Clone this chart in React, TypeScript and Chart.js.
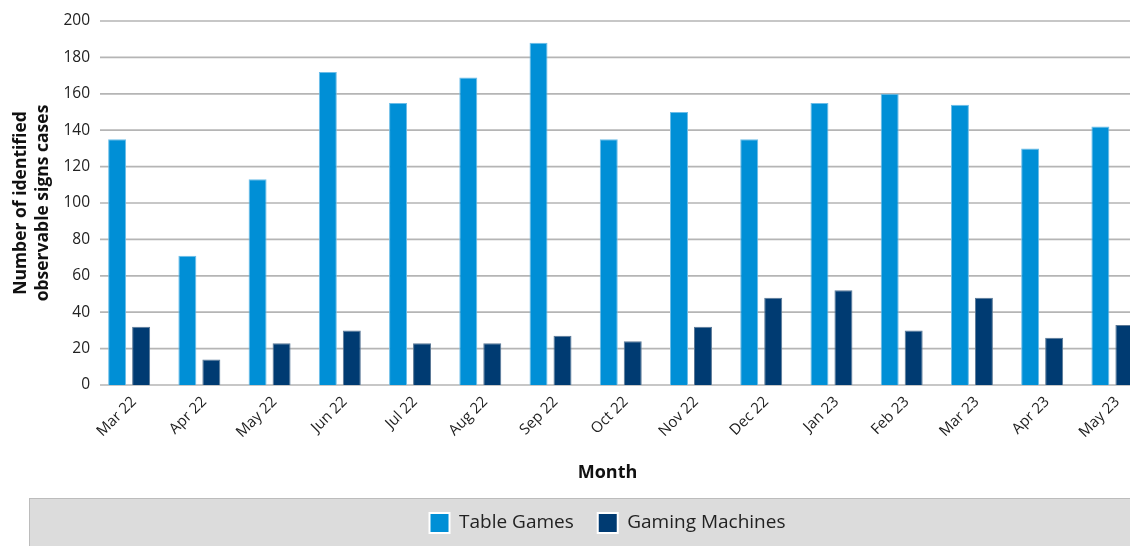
import React, { useEffect, useRef } from "react";
import { Chart, registerables } from "chart.js";

Chart.register(...registerables);

const categories = [
  "Mar 22", "Apr 22", "May 22", "Jun 22", "Jul 22", "Aug 22", "Sep 22", "Oct 22",
  "Nov 22", "Dec 22", "Jan 23", "Feb 23", "Mar 23", "Apr 23", "May 23",
];
const tableGames = [135, 71, 113, 172, 155, 169, 188, 135, 150, 135, 155, 160, 154, 130, 142];
const gamingMachines = [32, 14, 23, 30, 23, 23, 27, 24, 32, 48, 52, 30, 48, 26, 33];
const seriesNames = ["Table Games", "Gaming Machines"];
const yMin = 0;
const yMax = 200;
const yStep = 20;
const xTitle = "Month";
const yTitle = ["Number of identified", "observable signs cases"];

const W = 1215;
const H = 560;
const FONT = "'Open Sans', sans-serif";
const TG_COLOR = "#008fd6";
const GM_COLOR = "#003b72";

export default function App() {
  const ref = useRef<HTMLCanvasElement>(null);

  useEffect(() => {
    const canvas = ref.current!;

    const legendBg = {
      id: "legendBg",
      beforeDraw(chart: any) {
        const ctx = chart.ctx;
        ctx.save();
        ctx.fillStyle = "#dcdcdc";
        ctx.fillRect(29, 498, chart.width, chart.height);
        ctx.strokeStyle = "#bcbcbc";
        ctx.lineWidth = 1;
        ctx.strokeRect(29.5, 498.5, chart.width, chart.height);
        ctx.restore();
      },
    };

    const hGrid = {
      id: "hGrid",
      beforeDatasetsDraw(chart: any) {
        const ctx = chart.ctx;
        const ys = chart.scales.y;
        const right = chart.chartArea.right;
        ctx.save();
        ctx.strokeStyle = "#b5b5b5";
        ctx.lineWidth = 1.7;
        ys.ticks.forEach((t: any) => {
          const py = ys.getPixelForValue(t.value);
          ctx.beginPath();
          ctx.moveTo(100, py);
          ctx.lineTo(right, py);
          ctx.stroke();
        });
        ctx.restore();
      },
    };

    const xTitlePlugin = {
      id: "xTitlePlugin",
      afterDraw(chart: any) {
        const ctx = chart.ctx;
        ctx.save();
        ctx.font = `bold 18px ${FONT}`;
        ctx.fillStyle = "#111";
        ctx.textAlign = "center";
        ctx.textBaseline = "middle";
        ctx.fillText(xTitle, chart.width / 2, 473);
        ctx.restore();
      },
    };

    const chart = new Chart(canvas, {
      type: "bar",
      data: {
        labels: categories,
        datasets: [
          {
            label: seriesNames[0],
            data: tableGames,
            backgroundColor: TG_COLOR,
            borderColor: "#6cbde8",
            borderWidth: 1,
          },
          {
            label: seriesNames[1],
            data: gamingMachines,
            backgroundColor: GM_COLOR,
            borderColor: "#5a7896",
            borderWidth: 1,
          },
        ],
      },
      options: {
        responsive: false,
        animation: false,
        devicePixelRatio: 1,
        layout: { padding: { top: 21, bottom: 17, left: 0, right: 0 } },
        datasets: {
          bar: { barPercentage: 0.75, categoryPercentage: 0.683 },
        },
        plugins: {
          tooltip: { enabled: false },
          legend: {
            position: "bottom",
            labels: {
              boxWidth: 20,
              boxHeight: 20,
              padding: 24,
              color: "#222",
              font: { size: 19, family: FONT },
              generateLabels: (ch: any) =>
                ch.data.datasets.map((d: any, i: number) => ({
                  text: d.label,
                  fillStyle: d.backgroundColor,
                  strokeStyle: "#ffffff",
                  lineWidth: 2,
                  hidden: false,
                  datasetIndex: i,
                  fontColor: "#222",
                })),
            },
          },
        },
        scales: {
          x: {
            grid: { display: false, drawTicks: false },
            border: { display: false },
            ticks: {
              color: "#222",
              font: { size: 15, family: FONT },
              minRotation: 45,
              maxRotation: 45,
              padding: 8,
              labelOffset: 5,
              autoSkip: false,
            },
            afterFit(s: any) {
              s.height = 104;
            },
          },
          y: {
            min: yMin,
            max: yMax,
            grid: { display: false, drawTicks: false },
            border: { display: false },
            ticks: {
              stepSize: yStep,
              color: "#222",
              font: { size: 15.5, family: FONT },
              padding: 4,
            },
            title: {
              display: true,
              text: yTitle,
              color: "#111",
              font: { size: 17.5, weight: "bold", family: FONT, lineHeight: 1.22 },
              padding: { top: 10.5, bottom: 0 },
            },
            afterFit(s: any) {
              s.width = 94;
            },
          },
          y2: {
            position: "right",
            display: true,
            grid: { display: false, drawTicks: false },
            border: { display: false },
            ticks: { display: false },
            afterFit(s: any) {
              s.width = 67.5;
            },
          },
        },
      },
      plugins: [legendBg, hGrid, xTitlePlugin],
    } as any);

    return () => chart.destroy();
  }, []);

  return (
    <div
      style={{
        position: "absolute",
        left: 0,
        top: 0,
        width: 1130,
        height: 546,
        overflow: "hidden",
        background: "#fff",
      }}
    >
      <canvas ref={ref} width={W} height={H} style={{ width: W, height: H, display: "block" }} />
    </div>
  );
}
